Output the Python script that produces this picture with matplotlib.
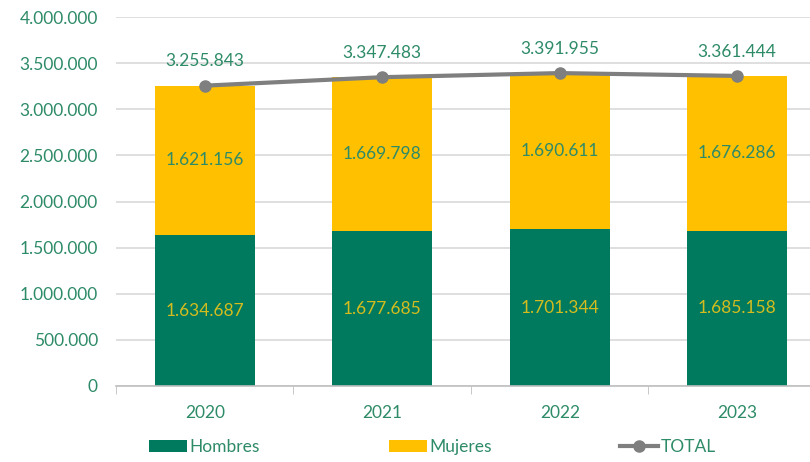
import matplotlib.pyplot as plt
from matplotlib.ticker import FuncFormatter, FixedLocator

# Datos por año
anios = ['2020', '2021', '2022', '2023']
hombres = [1634687, 1677685, 1701344, 1685158]
mujeres = [1621156, 1669798, 1690611, 1676286]
total = [3255843, 3347483, 3391955, 3361444]

verde = '#007A5E'
amarillo = '#FFC000'
gris = '#7F7F7F'
texto_verde = '#2E8B68'
texto_amarillo = '#D4BC1E'

plt.rcParams['font.family'] = ['Lato', 'DejaVu Sans']


def miles(v, pos=None):
    return '{:,.0f}'.format(v).replace(',', '.')


fig = plt.figure(figsize=(8.10, 4.62), dpi=100)
ax = fig.add_axes([116 / 810, 76 / 462, 694 / 810, 369 / 462])

x = list(range(len(anios)))
ancho = 0.565
b1 = ax.bar(x, hombres, width=ancho, color=verde, label='Hombres', zorder=2)
b2 = ax.bar(x, mujeres, width=ancho, bottom=hombres, color=amarillo, label='Mujeres', zorder=2)
l1, = ax.plot(x, total, color=gris, lw=3, marker='o', ms=8, label='TOTAL', zorder=3)

# etiquetas de valores
for i in x:
    ax.text(i, hombres[i] / 2, miles(hombres[i]), ha='center', va='center',
            color=texto_amarillo, fontsize=12.5, zorder=4)
    ax.text(i, hombres[i] + mujeres[i] / 2, miles(mujeres[i]), ha='center',
            va='center', color=texto_verde, fontsize=12.5, zorder=4)
    ax.annotate(miles(total[i]), (i, total[i]), xytext=(0, 17.5), textcoords='offset points',
                ha='center', va='center', color=texto_verde, fontsize=12.5, zorder=4)

ax.set_ylim(0, 4000000)
ax.yaxis.set_major_locator(FixedLocator(range(0, 4000001, 500000)))
ax.yaxis.set_major_formatter(FuncFormatter(miles))
ax.grid(axis='y', color='#D9D9D9', lw=1.2, zorder=0)
ax.set_axisbelow(True)

ax.set_xticks(x)
ax.set_xticklabels(anios)
ax.set_xticks([-0.5, 0.5, 1.5, 2.5, 3.5], minor=True)
# set_xticks amplía los límites, así que se fijan después
ax.set_xlim(-0.5, 3.41)
ax.tick_params(axis='x', which='major', length=0, pad=14, labelsize=12.5, labelcolor=texto_verde)
ax.tick_params(axis='x', which='minor', length=6, color='#BFBFBF', direction='out')
ax.tick_params(axis='y', length=0, pad=13, labelsize=12.5, labelcolor=texto_verde)

for lado in ['top', 'right', 'left']:
    ax.spines[lado].set_visible(False)
ax.spines['bottom'].set_color('#BFBFBF')
ax.spines['bottom'].set_linewidth(1.2)

leg = fig.legend(handles=[b1, b2, l1], loc='center', bbox_to_anchor=(0.534, 0.032), ncol=3,
                 frameon=False, fontsize=12.5, handlelength=2.2, handleheight=0.7,
                 handletextpad=0.15, columnspacing=7.4)
for t in leg.get_texts():
    t.set_color(texto_verde)

fig.savefig('out.png', dpi=100)
